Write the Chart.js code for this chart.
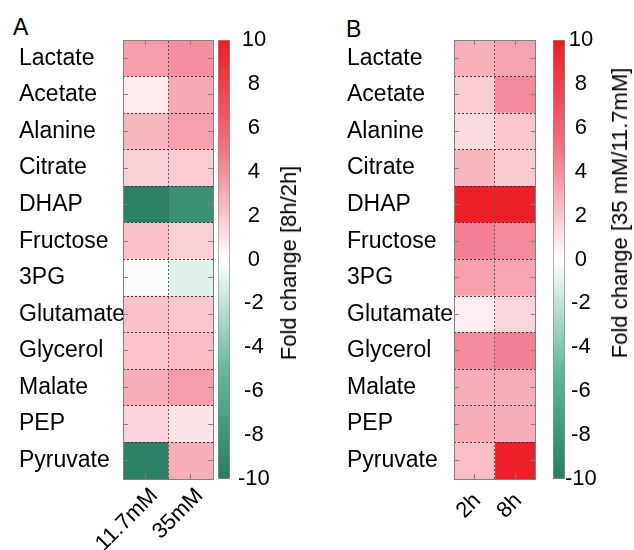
<!DOCTYPE html>
<html>
<head>
<meta charset="utf-8">
<script src="https://cdn.jsdelivr.net/npm/chart.js@4/dist/chart.umd.min.js"></script>
<style>
  html, body { margin: 0; padding: 0; background: #fff; }
  body { width: 634px; height: 550px; position: relative; overflow: hidden;
         font-family: "Liberation Sans", Arial, sans-serif; color: #000; }
  canvas { position: absolute; top: 0; }
  .panel { position: absolute; font-size: 23px; line-height: 23px; }
  .cbtitle { position: absolute; font-size: 22px; white-space: nowrap;
             transform: translate(-50%, -50%) rotate(-90deg); }
</style>
</head>
<body>
<div class="panel" style="left:13px; top:16px;">A</div>
<div class="panel" style="left:346px; top:18px;">B</div>
<canvas id="heatA" width="220" height="550" style="left:0px;"></canvas>
<canvas id="barA" width="60" height="550" style="left:218px;"></canvas>
<canvas id="heatB" width="224" height="550" style="left:328px;"></canvas>
<canvas id="barB" width="60" height="550" style="left:553px;"></canvas>
<div class="cbtitle" style="left:289px; top:263px;">Fold change [8h/2h]</div>
<div class="cbtitle" style="left:620px; top:213px;">Fold change [35 mM/11.7mM]</div>

<script>
// rows (top to bottom)
const metabolites = ["Lactate", "Acetate", "Alanine", "Citrate", "DHAP", "Fructose",
  "3PG", "Glutamate", "Glycerol", "Malate", "PEP", "Pyruvate"];

// panel A: fold change 8h/2h
const columnsA = ["11.7mM", "35mM"];
const foldA_11mM = [3.5, 0.7, 2.6, 1.7, -9.7, 2.2, -0.2, 2.2, 2.1, 2.9, 1.6, -9.6];
const foldA_35mM = [4.0, 3.1, 3.4, 1.8, -8.3, 1.7, -1.0, 2.0, 2.4, 3.5, 1.0, 2.9];

// panel B: fold change 35 mM / 11.7 mM
const columnsB = ["2h", "8h"];
const foldB_2h = [2.8, 1.8, 1.3, 2.6, 9.8, 4.5, 3.4, 0.6, 4.1, 2.9, 2.9, 2.3];
const foldB_8h = [3.3, 4.2, 2.0, 1.9, 9.8, 4.2, 3.2, 1.5, 4.5, 2.9, 2.9, 9.8];

// colour scale
const colorMin = -10;
const colorMax = 10;
const colorTickStep = 2;

const FONT = "'Liberation Sans', Arial, sans-serif";
const colorStops = [
  [-10, [40, 124, 98]],
  [-5, [100, 184, 158]],
  [0, [255, 255, 255]],
  [5, [242, 115, 135]],
  [10, [237, 28, 36]],
];

function colorFor(v) {
  v = Math.max(colorMin, Math.min(colorMax, v));
  for (let i = 0; i < colorStops.length - 1; i++) {
    const [v0, c0] = colorStops[i];
    const [v1, c1] = colorStops[i + 1];
    if (v <= v1) {
      const t = (v - v0) / (v1 - v0);
      const c = c0.map((a, k) => Math.round(a + (c1[k] - a) * t));
      return `rgb(${c[0]},${c[1]},${c[2]})`;
    }
  }
  return "rgb(237,28,36)";
}

const EDGE = "#808080";
// small inward tick marks (negative length) on the heatmap frame
const inwardTicks = { display: true, drawOnChartArea: false, drawTicks: true, tickLength: -5,
                      offset: false, color: EDGE, z: 1 };

function makeHeatmap(id, columns, series, labelWidth, xLabelShift, xLabelPad) {
  new Chart(document.getElementById(id), {
    type: "bar",
    data: {
      labels: metabolites,
      datasets: series.map((vals, i) => ({
        label: columns[i],
        // every cell spans one column unit; colour carries the value
        data: vals.map(() => 1),
        backgroundColor: vals.map(colorFor),
        borderWidth: 0,
        barPercentage: 1,
        categoryPercentage: 1,
      })),
    },
    options: {
      indexAxis: "y",
      responsive: false,
      animation: false,
      devicePixelRatio: 1,
      layout: { padding: { left: 19, top: 40, right: 6, bottom: 0 } },
      plugins: { legend: { display: false }, tooltip: { enabled: false } },
      scales: {
        // column divider (dotted) + top frame line
        x: {
          type: "linear", position: "top", stacked: true,
          min: 0, max: columns.length,
          ticks: { display: false, stepSize: 1 },
          grid: { color: "rgba(90,90,90,1)", z: 1, drawTicks: false },
          border: { color: EDGE, dash: [2, 2], z: 2 },
          afterFit: (s) => { s.height = 0; },
        },
        // row labels + left frame with inward ticks
        y: {
          type: "category", position: "left", stacked: true,
          grid: inwardTicks,
          border: { color: EDGE, z: 2 },
          ticks: { crossAlign: "far", color: "#000", font: { family: FONT, size: 23 }, padding: 0 },
          afterFit: (s) => { s.width = labelWidth; },
        },
        // dotted row dividers
        yRows: {
          type: "category", labels: metabolites, position: "left", offset: true,
          grid: { offset: true, color: "rgba(40,40,40,0.9)", z: 1, drawTicks: false },
          border: { display: false, dash: [2, 2] },
          ticks: { display: false },
          afterFit: (s) => { s.width = 0; },
        },
        // column labels + bottom frame
        x2: {
          type: "category", labels: columns, position: "bottom", offset: true,
          grid: inwardTicks,
          border: { color: EDGE, z: 2 },
          ticks: { minRotation: 45, maxRotation: 45, color: "#000", padding: xLabelPad,
                   labelOffset: xLabelShift, font: { family: FONT, size: 22 } },
          afterFit: (s) => { s.height = 71; },
        },
        xTop: {
          type: "category", labels: columns, position: "top", offset: true,
          grid: inwardTicks,
          border: { display: false },
          ticks: { display: false },
          afterFit: (s) => { s.height = 0; },
        },
        yRight: {
          type: "category", labels: metabolites, position: "right", offset: true,
          grid: inwardTicks,
          border: { color: EDGE, z: 2 },
          ticks: { display: false },
          afterFit: (s) => { s.width = 0; },
        },
      },
    },
  });
}

function makeColorbar(id, tickPadding) {
  new Chart(document.getElementById(id), {
    type: "bar",
    data: {
      labels: [""],
      datasets: [{
        data: [[colorMin, colorMax]],
        backgroundColor: (ctx) => {
          const chart = ctx.chart;
          if (!chart.chartArea) return null;
          const y = chart.scales.y;
          const g = chart.ctx.createLinearGradient(0, y.getPixelForValue(colorMin), 0, y.getPixelForValue(colorMax));
          colorStops.forEach(([v, c]) => {
            g.addColorStop((v - colorMin) / (colorMax - colorMin), `rgb(${c[0]},${c[1]},${c[2]})`);
          });
          return g;
        },
        borderColor: "#8a8a8a",
        borderWidth: 1,
        borderSkipped: false,
        barPercentage: 1,
        categoryPercentage: 1,
      }],
    },
    options: {
      responsive: false,
      animation: false,
      devicePixelRatio: 1,
      layout: { padding: { left: 0, top: 40, right: 0, bottom: 71 } },
      plugins: { legend: { display: false }, tooltip: { enabled: false } },
      scales: {
        x: { display: false },
        y: {
          position: "right", min: colorMin, max: colorMax,
          ticks: { stepSize: colorTickStep, color: "#000", crossAlign: "center",
                   padding: tickPadding, font: { family: FONT, size: 22 } },
          grid: { display: false, drawTicks: false },
          border: { display: false },
          afterFit: (s) => { s.width = 48; },
        },
      },
    },
  });
}

makeHeatmap("heatA", columnsA, [foldA_11mM, foldA_35mM], 104, 9, 9);
makeColorbar("barA", 8);
makeHeatmap("heatB", columnsB, [foldB_2h, foldB_8h], 107, 3, 14);
makeColorbar("barB", 0);
</script>
</body>
</html>
